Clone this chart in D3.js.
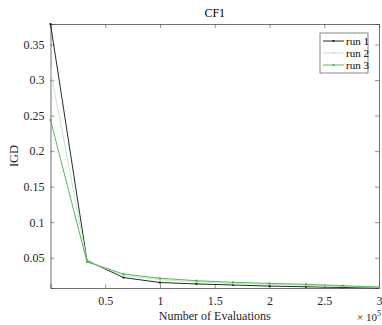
<!DOCTYPE html>
<html>
<head>
<meta charset="utf-8">
<script src="https://cdn.jsdelivr.net/npm/d3@7"></script>
<style>
  body { margin: 0; background: #fff; }
  svg { display: block; font-family: "Liberation Serif", "Times New Roman", serif; }
</style>
</head>
<body>
<div id="chart"></div>
<script>
const evals = [0, 0.333, 0.667, 1, 1.333, 1.667, 2, 2.333, 2.667, 3];
const run1 = [0.379, 0.046, 0.022, 0.015, 0.013, 0.0115, 0.010, 0.009, 0.008, 0.0075];
const run2 = [0.314, 0.045, 0.025, 0.019, 0.016, 0.0135, 0.0125, 0.011, 0.0095, 0.008];
const run3 = [0.244, 0.044, 0.027, 0.021, 0.0176, 0.0153, 0.0138, 0.0125, 0.0106, 0.0087];
const seriesNames = ['run 1', 'run 2', 'run 3'];
const seriesColors = ['#111111', '#b8e6b8', '#45b045'];
const xTicks = [0.5, 1, 1.5, 2, 2.5, 3];
const yTicks = [0.05, 0.1, 0.15, 0.2, 0.25, 0.3, 0.35];

const width = 382, height = 325;
const margin = { top: 24, right: 3, bottom: 37, left: 50.5 };
const w = width - margin.left - margin.right;
const h = height - margin.top - margin.bottom;

const svg = d3.select('#chart').append('svg')
  .attr('width', width)
  .attr('height', height);

const g = svg.append('g')
  .attr('transform', `translate(${margin.left},${margin.top})`);

const x = d3.scaleLinear().domain([0, 3]).range([0, w]);
const y = d3.scaleLinear().domain([0.0073, 0.379]).range([h, 0]);

const axisColor = '#4d4d4d';

// box axes
const xAxis = g.append('g')
  .attr('transform', `translate(0,${h})`)
  .call(d3.axisBottom(x).tickValues(xTicks).tickSize(-4).tickPadding(8).tickFormat(d3.format('')));
const xTop = g.append('g')
  .call(d3.axisTop(x).tickValues(xTicks).tickSize(-4).tickFormat(''));
const yAxis = g.append('g')
  .call(d3.axisLeft(y).tickValues(yTicks).tickSize(-4).tickPadding(6).tickFormat(d3.format('')));
const yRight = g.append('g')
  .attr('transform', `translate(${w},0)`)
  .call(d3.axisRight(y).tickValues(yTicks).tickSize(-4).tickFormat(''));

[xAxis, xTop, yAxis, yRight].forEach(a => {
  a.select('.domain').attr('stroke', axisColor).attr('stroke-width', 0.8);
  a.selectAll('.tick line').attr('stroke', axisColor).attr('stroke-width', 0.6);
  a.selectAll('.tick text')
    .attr('fill', '#262626')
    .style('font-size', '12px')
    .style('font-family', '"Liberation Serif", serif');
});

// lines
const line = d3.line()
  .x((d, i) => x(evals[i]))
  .y(d => y(d));

const allRuns = [run1, run2, run3];
allRuns.forEach((vals, k) => {
  g.append('path')
    .datum(vals)
    .attr('fill', 'none')
    .attr('stroke', seriesColors[k])
    .attr('stroke-width', 0.9)
    .attr('d', line);
  g.selectAll(`.pt${k}`)
    .data(vals)
    .enter().append('circle')
    .attr('class', `pt${k}`)
    .attr('cx', (d, i) => x(evals[i]))
    .attr('cy', d => y(d))
    .attr('r', 1.1)
    .attr('fill', seriesColors[k]);
});

// title & labels
svg.append('text')
  .attr('x', margin.left + w / 2)
  .attr('y', 17)
  .attr('text-anchor', 'middle')
  .style('font-size', '12px')
  .attr('fill', '#000')
  .text('CF1');

svg.append('text')
  .attr('transform', `translate(18,${margin.top + h / 2}) rotate(-90)`)
  .attr('text-anchor', 'middle')
  .style('font-size', '12.5px')
  .attr('fill', '#262626')
  .text('IGD');

svg.append('text')
  .attr('x', margin.left + w / 2)
  .attr('y', 320)
  .attr('text-anchor', 'middle')
  .style('font-size', '12px')
  .attr('fill', '#262626')
  .text('Number of Evaluations');

const mult = svg.append('text')
  .attr('x', 357)
  .attr('y', 321)
  .style('font-size', '11px')
  .attr('fill', '#262626');
mult.append('tspan').text('\u00d7 10');
mult.append('tspan').attr('dy', -5).style('font-size', '8px').text('5');

// legend
const lg = g.append('g').attr('transform', `translate(${320 - margin.left},${33 - margin.top})`);
lg.append('rect')
  .attr('width', 48).attr('height', 40)
  .attr('fill', '#fff')
  .attr('stroke', '#555')
  .attr('stroke-width', 0.7);
seriesNames.forEach((name, k) => {
  const yy = 8 + k * 12;
  lg.append('line')
    .attr('x1', 3).attr('x2', 24)
    .attr('y1', yy).attr('y2', yy)
    .attr('stroke', seriesColors[k])
    .attr('stroke-width', 0.9);
  lg.append('circle')
    .attr('cx', 13.5).attr('cy', yy).attr('r', 1.1)
    .attr('fill', seriesColors[k]);
  lg.append('text')
    .attr('x', 26).attr('y', yy + 3.5)
    .style('font-size', '11px')
    .attr('fill', '#000')
    .text(name);
});
</script>
</body>
</html>
